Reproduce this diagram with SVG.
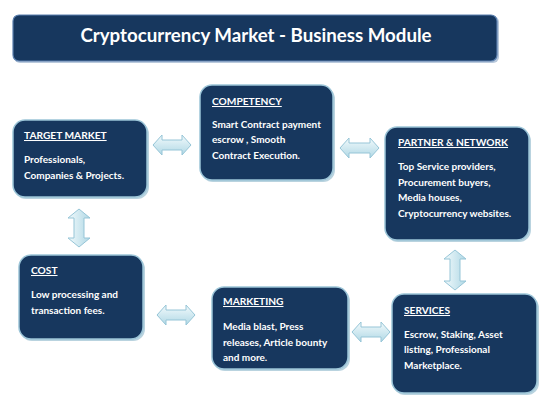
<svg xmlns="http://www.w3.org/2000/svg" width="547" height="400" viewBox="0 0 547 400">
<defs>
<linearGradient id="gh" x1="0" y1="0" x2="0" y2="1">
<stop offset="0" stop-color="#f2fafc"/><stop offset="1" stop-color="#b0d8e5"/>
</linearGradient>
<linearGradient id="gv" x1="0" y1="0" x2="1" y2="0">
<stop offset="0" stop-color="#f2fafc"/><stop offset="1" stop-color="#b0d8e5"/>
</linearGradient>
</defs>
<style>
.box{fill:#17375e;stroke:#9cc5d8;stroke-width:1.5}
.sh{fill:#b9d3df}
.tbox{fill:#17375e;stroke:#5a7fae;stroke-width:1.2}
.title{font-family:Lato,"Liberation Sans",sans-serif;font-weight:bold;font-size:18.7px;fill:#ffffff}
.hd{font-family:Lato,"Liberation Sans",sans-serif;font-weight:bold;font-size:10.2px;fill:#ffffff;text-decoration:underline}
.bd{font-family:Lato,"Liberation Sans",sans-serif;font-weight:bold;font-size:10px;fill:#ffffff}
.ah{fill:url(#gh);stroke:#96c5d7;stroke-width:1}
.av{fill:url(#gv);stroke:#96c5d7;stroke-width:1}
</style>
<rect width="547" height="400" fill="#ffffff"/>
<g id="title">
<rect x="14" y="16" width="485" height="47" rx="6" fill="#b9c9dc"/>
<rect class="tbox" x="13" y="15" width="484" height="46" rx="6"/>
<text class="title" x="256" y="42" text-anchor="middle">Cryptocurrency Market - Business Module</text>
</g>
<g id="connectors">
<polygon class="ah" points="153,145 162,135 162,140 182,140 182,135 191,145 182,155 182,150 162,150 162,155"/>
<polygon class="ah" points="340,148 349,138 349,143 370,143 370,138 379,148 370,158 370,153 349,153 349,158"/>
<polygon class="ah" points="157,315 166,305 166,310 186,310 186,305 195,315 186,325 186,320 166,320 166,325"/>
<polygon class="ah" points="352,332 361,322 361,327 381,327 381,322 390,332 381,342 381,337 361,337 361,342"/>
<polygon class="av" points="79,209 90,218 84,218 84,238 90,238 79,247 68,238 74,238 74,218 68,218"/>
<polygon class="av" points="455,250 466,259 460,259 460,281 466,281 455,290 444,281 450,281 450,259 444,259"/>
</g>
<g id="target-market">
<rect class="sh" x="14" y="122" width="135" height="77" rx="12"/>
<rect class="box" x="13" y="120" width="134" height="77" rx="12"/>
<text class="hd" x="24" y="139">TARGET MARKET</text>
<text class="bd" x="24" y="163">Professionals,</text>
<text class="bd" x="24" y="179">Companies &amp; Projects.</text>
</g>
<g id="competency">
<rect class="sh" x="201" y="87" width="134" height="95" rx="12"/>
<rect class="box" x="200" y="85" width="133" height="95" rx="12"/>
<text class="hd" x="212" y="105">COMPETENCY</text>
<text class="bd" x="212" y="128">Smart Contract payment</text>
<text class="bd" x="212" y="143">escrow , Smooth</text>
<text class="bd" x="212" y="159">Contract Execution.</text>
</g>
<g id="partner-network">
<rect class="sh" x="386" y="129" width="145" height="113" rx="12"/>
<rect class="box" x="385" y="127" width="144" height="113" rx="12"/>
<text class="hd" x="398" y="146">PARTNER &amp; NETWORK</text>
<text class="bd" x="398" y="170">Top Service providers,</text>
<text class="bd" x="398" y="186">Procurement buyers,</text>
<text class="bd" x="398" y="201">Media houses,</text>
<text class="bd" x="398" y="217">Cryptocurrency websites.</text>
</g>
<g id="cost">
<rect class="sh" x="20" y="257" width="125" height="84" rx="12"/>
<rect class="box" x="19" y="255" width="124" height="84" rx="12"/>
<text class="hd" x="31" y="274">COST</text>
<text class="bd" x="31" y="298">Low processing and</text>
<text class="bd" x="31" y="314">transaction fees.</text>
</g>
<g id="marketing">
<rect class="sh" x="213" y="289" width="137" height="82" rx="12"/>
<rect class="box" x="212" y="287" width="136" height="82" rx="12"/>
<text class="hd" x="223" y="305">MARKETING</text>
<text class="bd" x="223" y="330">Media blast, Press</text>
<text class="bd" x="223" y="346">releases, Article bounty</text>
<text class="bd" x="223" y="361">and more.</text>
</g>
<g id="services">
<rect class="sh" x="393" y="296" width="146" height="99" rx="12"/>
<rect class="box" x="392" y="294" width="145" height="99" rx="12"/>
<text class="hd" x="404" y="314">SERVICES</text>
<text class="bd" x="404" y="338">Escrow, Staking, Asset</text>
<text class="bd" x="404" y="353">listing, Professional</text>
<text class="bd" x="404" y="369">Marketplace.</text>
</g>
</svg>
